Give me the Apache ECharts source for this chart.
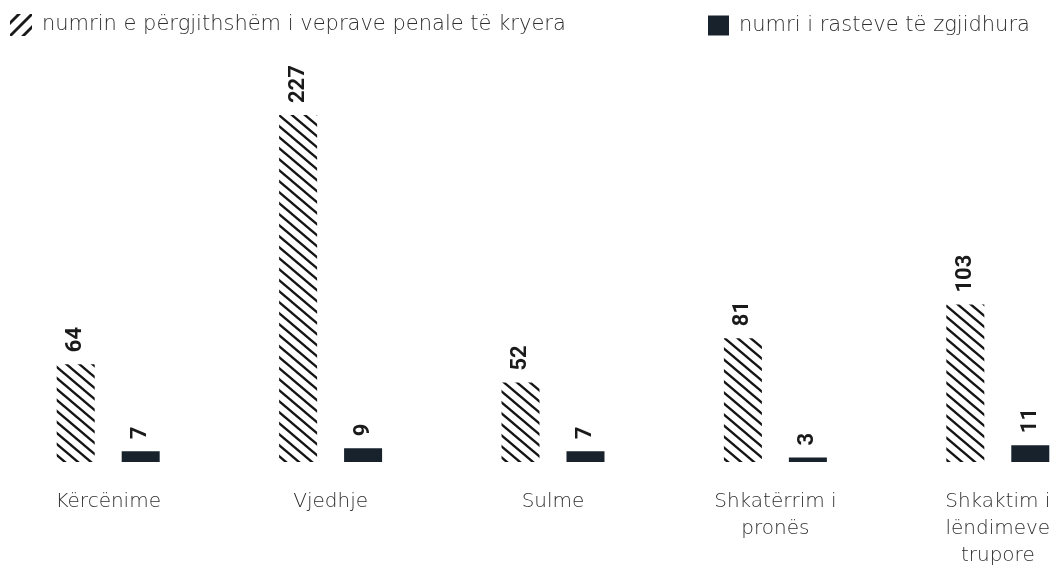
<!DOCTYPE html>
<html>
<head>
<meta charset="utf-8">
<script src="https://cdn.jsdelivr.net/npm/echarts@6/dist/echarts.min.js"></script>
<style>
  html, body { margin: 0; padding: 0; background: #fff; }
  #main { width: 1062px; height: 565px; }
</style>
</head>
<body>
<div id="main"></div>
<script>
const categories = ['Kërcënime', 'Vjedhje', 'Sulme', 'Shkatërrim i\npronës', 'Shkaktim i\nlëndimeve\ntrupore'];
const totalCrimes = [64, 227, 52, 81, 103];
const solvedCases = [7, 9, 7, 3, 11];

const nameTotal = 'numrin e përgjithshëm i veprave penale të kryera';
const nameSolved = 'numri i rasteve të zgjidhura';

// diagonal hatch pattern for the first series
function makeHatch() {
    const w = 13, h = 11;
    const c = document.createElement('canvas');
    c.width = w; c.height = h;
    const ctx = c.getContext('2d');
    ctx.fillStyle = '#fff';
    ctx.fillRect(0, 0, w, h);
    ctx.strokeStyle = '#141414';
    ctx.lineWidth = 2.4;
    for (let k = -1; k <= 1; k++) {
        ctx.beginPath();
        ctx.moveTo(-w, -h + k * h);
        ctx.lineTo(2 * w, 2 * h + k * h);
        ctx.stroke();
    }
    return c;
}

const hatchIcon = 'path://M0,7 L7,0 L11,0 L0,11 Z M0,20 L20,0 L22,0 L22,2 L2,22 L0,22 Z M11,22 L22,11 L22,15 L15,22 Z';
const dark = '#17222c';
const textFont = 'DejaVu Sans';

const myChart = echarts.init(document.getElementById('main'));

const valueLabel = {
    show: true,
    position: 'top',
    rotate: 90,
    align: 'left',
    verticalAlign: 'middle',
    distance: 12,
    color: '#1a1a1a',
    fontFamily: 'Roboto',
    fontWeight: 'bold',
    fontSize: 22
};

const legendText = { color: '#2e2e2e', fontSize: 21, fontFamily: textFont, fontWeight: 200, padding: [0, 0, 0, 5] };

const option = {
    animation: false,
    legend: [
        {
            left: 10,
            top: 14,
            padding: 0,
            itemWidth: 22,
            itemHeight: 22,
            textStyle: legendText,
            data: [{ name: nameTotal, icon: hatchIcon, itemStyle: { color: '#1a1a1a' } }]
        },
        {
            left: 708,
            top: 15,
            padding: 0,
            itemWidth: 21,
            itemHeight: 20,
            textStyle: legendText,
            data: [{ name: nameSolved, icon: 'rect' }]
        }
    ],
    grid: { left: -3, width: 1112, top: 115, bottom: 103, outerBoundsMode: 'none', containLabel: false },
    xAxis: {
        type: 'category',
        data: categories,
        axisLine: { show: false },
        axisTick: { show: false },
        axisLabel: {
            margin: 26,
            color: '#2e2e2e',
            fontSize: 20,
            fontFamily: textFont,
            fontWeight: 200,
            lineHeight: 27,
            interval: 0
        }
    },
    yAxis: { type: 'value', min: 0, max: 227, show: false },
    series: [
        {
            name: nameTotal,
            type: 'bar',
            barWidth: 38,
            barGap: '71%',
            data: totalCrimes,
            itemStyle: { color: { image: makeHatch(), repeat: 'repeat' } },
            label: valueLabel
        },
        {
            name: nameSolved,
            type: 'bar',
            barWidth: 38,
            data: solvedCases,
            itemStyle: { color: dark },
            label: valueLabel
        }
    ]
};

myChart.setOption(option);
</script>
</body>
</html>
